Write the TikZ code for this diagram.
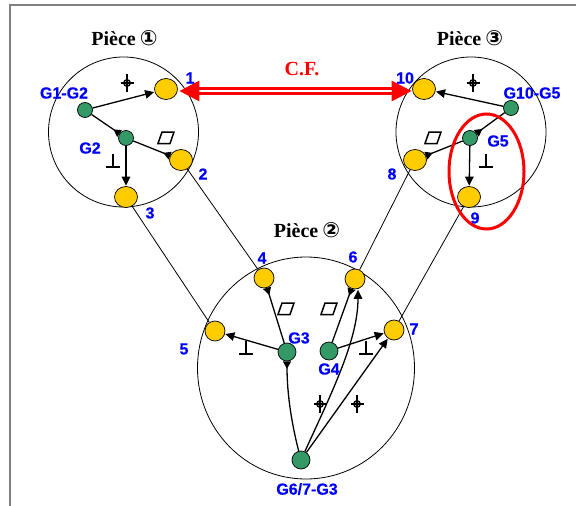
\documentclass[tikz,border=0pt]{standalone}
\usepackage{fontspec}
\usetikzlibrary{shapes.geometric,arrows.meta}
\setmainfont{Liberation Serif}
\setsansfont{Liberation Sans}
\newfontfamily\circfont{DejaVu Sans}
\newfontfamily\labfont[FakeBold=0.4]{Liberation Sans Bold}
\definecolor{yel}{HTML}{FFCC00}
\definecolor{grn}{HTML}{339966}
\definecolor{frm}{HTML}{808080}
\newcommand{\ringnum}[1]{\hspace{0.2em}{\circfont\bfseries\fontsize{21}{21}\selectfont #1}}
\tikzset{
  x=1pt,y=-1pt,
  piece/.style={draw=black,line width=0.8pt,ellipse,minimum width=150pt,minimum height=150pt,inner sep=0pt},
  yl/.style={draw=black,line width=0.7pt,fill=yel,ellipse,inner sep=0pt,minimum width=23pt,minimum height=21pt},
  yr/.style={draw=black,line width=0.7pt,fill=yel,ellipse,inner sep=0pt,minimum width=20pt,minimum height=20pt},
  gn/.style={draw=black,line width=0.7pt,fill=grn,ellipse,inner sep=0pt,minimum width=15pt,minimum height=15pt},
  gb/.style={gn,minimum width=18pt,minimum height=18pt},
  lab/.style={text=blue,font=\labfont\fontsize{16}{16}\selectfont,inner sep=0pt},
  ttl/.style={text=black,font=\rmfamily\bfseries\fontsize{20}{20}\selectfont,inner sep=0pt},
  link/.style={draw=black,line width=0.8pt},
  req/.style={draw=black,line width=1.3pt,-{Triangle[length=9pt,width=8.5pt]},shorten >=0.5pt},
  datum/.style={draw=black,line width=1.3pt,-{Triangle[reversed,length=7.5pt,width=8pt]}},
  posn/.pic={
    \draw[line width=1.3pt] (-6.5,0)--(6.5,0) (0,-9)--(0,9);
    \draw[line width=1.5pt] (0,0) circle[radius=3.2];
  },
  perpn/.pic={
    \draw[line width=1.5pt] (-7,6)--(7,6) (0,-7)--(0,6);
  },
  paral/.pic={
    \draw[line width=1.5pt] (-4,-6)--(8,-6)--(4,5.5)--(-8,5.5)--cycle;
  },
}
\begin{document}
\begin{tikzpicture}
\useasboundingbox (0,0) rectangle (576,506);
\fill[white] (0,0) rectangle (576,506);
\draw[frm,line width=2pt] (576,5)--(10,5)--(10,506);

\node[piece] (p1) at (123.5,132) {};
\node[piece] (p3) at (471,132) {};
\node[piece,minimum width=217pt,minimum height=222pt] (p2) at (306,368) {};

\node[yl] (n1) at (166,89) {};
\node[yl] (n2) at (181,160) {};
\node[yl] (n3) at (126,197) {};
\node[yl] (n10) at (424,89) {};
\node[yl] (n8) at (415,160) {};
\node[yl] (n9) at (469,197) {};
\node[yr] (n4) at (264,278) {};
\node[yr] (n5) at (215,331) {};
\node[yr] (n6) at (355,279) {};
\node[yr] (n7) at (394,330) {};

\node[gn] (g12) at (85,110) {};
\node[gn] (g2) at (126,138) {};
\node[gn] (g105) at (511,108) {};
\node[gn] (g5) at (470,138) {};
\node[gb] (g3) at (287,352) {};
\node[gb] (g4) at (329,351) {};
\node[gb] (g67) at (301,460) {};

\draw[link] (n2)--(n4);
\draw[link] (n3)--(n5);
\draw[link] (n8)--(n6);
\draw[link] (n9)--(n7);

\draw[req] (g12)--(n1);
\draw[datum] (g12)--(g2);
\draw[datum] (g2)--(n2);
\draw[req] (g2)--(n3);
\draw[req] (g105)--(n10);
\draw[datum] (g105)--(g5);
\draw[datum] (g5)--(n8);
\draw[req] (g5)--(n9);
\draw[datum] (g3)--(n4);
\draw[req] (g3)--(n5);
\draw[datum] (g4)--(n6);
\draw[req] (g4)--(n7);
\draw[datum] (g67) .. controls (292,425) and (287,395) .. (g3);
\draw[req] (g67) .. controls (332,392) and (358,340) .. ([xshift=3pt]n6.south);
\draw[req] (g67)--(n7);

\draw[red,double=white,line width=3pt,double distance=1.1pt,{Triangle[length=20pt,width=20pt]}-{Triangle[length=20pt,width=20pt]}]
  ([yshift=-2pt,xshift=1.5pt]n1.east)--([yshift=-2pt,xshift=-0.5pt]n10.west);

\node[draw=red,line width=3pt,ellipse,inner sep=0pt,minimum width=75pt,minimum height=115pt] (sel) at (486.5,171.5) {};

\node[ttl] (t1) at (124.5,38) {Pièce\ringnum{①}};
\node[ttl] (t2) at (307,230) {Pièce\ringnum{②}};
\node[ttl] (t3) at (470,38) {Pièce\ringnum{③}};
\node[ttl,text=red] (cf) at (302,69) {C.F.};

\node[lab] (l1) at (190,78) {1};
\node[lab] (l2) at (203,174) {2};
\node[lab] (l3) at (150,213) {3};
\node[lab] (l4) at (262,258) {4};
\node[lab] (l5) at (184,349) {5};
\node[lab] (l6) at (353,257) {6};
\node[lab] (l7) at (414,329) {7};
\node[lab] (l8) at (392,174) {8};
\node[lab] (l9) at (475,218) {9};
\node[lab] (l10) at (405,78) {10};
\node[lab] (lg12) at (64,93) {G1-G2};
\node[lab] (lg2) at (90,148) {G2};
\node[lab] (lg105) at (532,93) {G10-G5};
\node[lab] (lg5) at (498,141) {G5};
\node[lab] (lg3) at (299,338) {G3};
\node[lab] (lg4) at (329,369) {G4};
\node[lab] (lg67) at (307,489) {G6/7-G3};

\pic at (127,83) {posn};
\pic at (473,83) {posn};
\pic at (320,404) {posn};
\pic at (357,404) {posn};
\pic at (113,161) {perpn};
\pic at (486,161) {perpn};
\pic at (246,348) {perpn};
\pic at (366,348) {perpn};
\pic at (166,138) {paral};
\pic at (433,138) {paral};
\pic at (286,309) {paral};
\pic at (329,309) {paral};
\end{tikzpicture}
\end{document}
